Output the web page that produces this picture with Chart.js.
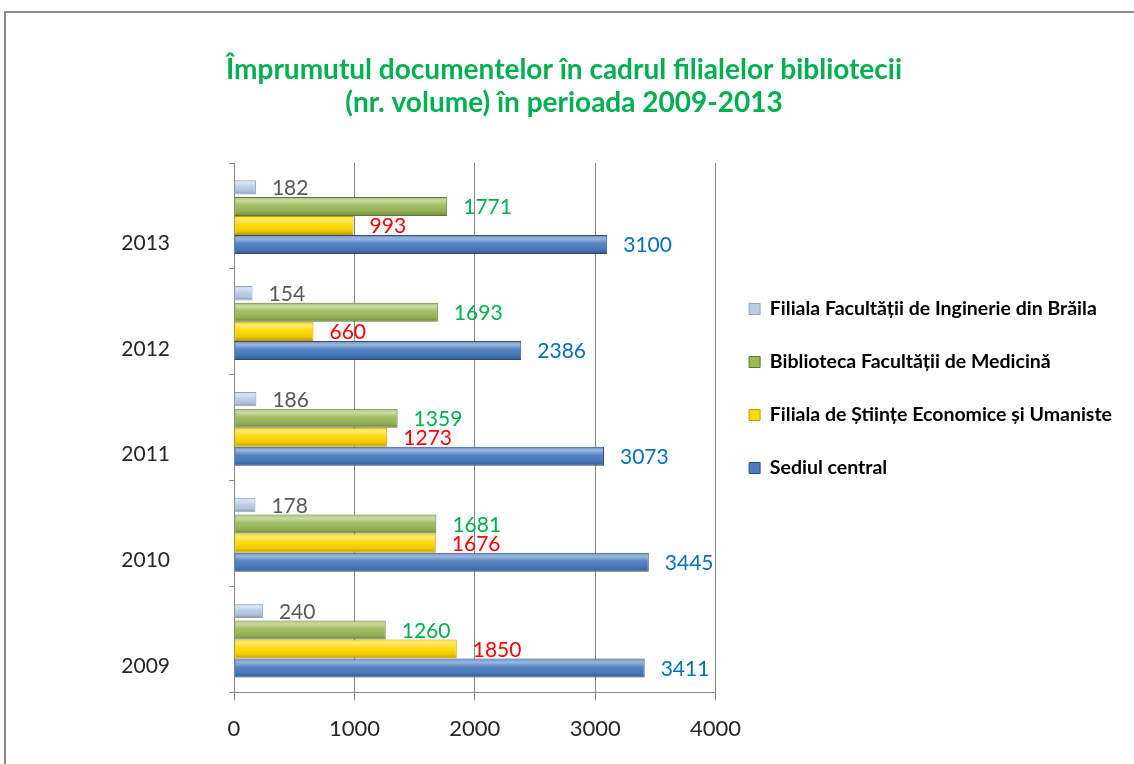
<!DOCTYPE html>
<html>
<head>
<meta charset="utf-8">
<script src="https://cdn.jsdelivr.net/npm/chart.js@4"></script>
<style>
  html, body { margin: 0; padding: 0; background: #fff; overflow: hidden; }
  #frame {
    position: absolute; left: 4px; top: 11px;
    width: 1140px; height: 760px;
    border: 2px solid #8c8c8c; background: #fff;
  }
  #wrap { position: absolute; left: 0; top: 0; width: 1128px; height: 751px; }
</style>
</head>
<body>
<div id="frame"><div id="wrap"><canvas id="chartImprumut"></canvas></div></div>
<script>
// categorii de sus in jos
const ani = ['2013', '2012', '2011', '2010', '2009'];

const serii = [
    'Filiala Facultății de Inginerie din Brăila',
    'Biblioteca Facultății de Medicină',
    'Filiala de Științe Economice și Umaniste',
    'Sediul central'
];

const inginerie = [182, 154, 186, 178, 240];
const medicina = [1771, 1693, 1359, 1681, 1260];
const economice = [993, 660, 1273, 1676, 1850];
const sediu = [3100, 2386, 3073, 3445, 3411];

const tickuriX = [0, 1000, 2000, 3000, 4000];

const culoriBare = ['#B9CDE5', '#9BBB59', '#FFD800', '#4A7DC0'];
const culoriMargini = ['#8EA4C1', '#5F7530', '#C99700', '#2C4D75'];
const culoriEtichete = ['#595959', '#00B050', '#FF0000', '#0070C0'];

const FONT = 'Lato, "Open Sans", sans-serif';
const grila = '#868686';

// efect de relief peste bare + etichetele cu valori
const eticheteBare = {
    id: 'eticheteBare',
    afterDatasetsDraw(chart) {
        const ctx = chart.ctx;
        chart.data.datasets.forEach((ds, di) => {
            const meta = chart.getDatasetMeta(di);
            if (meta.hidden) return;
            meta.data.forEach((bar, i) => {
                const p = bar.getProps(['x', 'y', 'base', 'height'], true);
                const top = p.y - p.height / 2;
                const g = ctx.createLinearGradient(0, top, 0, top + p.height);
                g.addColorStop(0, 'rgba(255,255,255,0.15)');
                g.addColorStop(0.2, 'rgba(255,255,255,0.45)');
                g.addColorStop(0.45, 'rgba(255,255,255,0.05)');
                g.addColorStop(0.8, 'rgba(0,0,0,0.08)');
                g.addColorStop(1, 'rgba(0,0,0,0.3)');
                ctx.save();
                ctx.fillStyle = g;
                ctx.fillRect(p.base + 1, top + 1, p.x - p.base - 2, p.height - 2);
                ctx.restore();

                ctx.save();
                ctx.font = '21px ' + FONT;
                ctx.fillStyle = culoriEtichete[di];
                ctx.textAlign = 'left';
                ctx.textBaseline = 'middle';
                ctx.fillText(String(ds.data[i]), p.x + 16, p.y + 1);
                ctx.restore();
            });
        });
    }
};

const valori = [inginerie, medicina, economice, sediu];

new Chart(document.getElementById('chartImprumut'), {
    type: 'bar',
    data: {
        labels: ani,
        datasets: serii.map((nume, i) => ({
            label: nume,
            data: valori[i],
            backgroundColor: culoriBare[i],
            borderColor: culoriMargini[i],
            borderWidth: 1,
            barPercentage: i === 0 ? 0.75 : 1,
            categoryPercentage: 0.72
        }))
    },
    options: {
        indexAxis: 'y',
        responsive: true,
        maintainAspectRatio: false,
        animation: false,
        layout: { padding: { left: 0, right: 12, top: 0, bottom: 0 } },
        scales: {
            x: {
                min: 0,
                max: 4000,
                afterBuildTicks: s => { s.ticks = tickuriX.map(v => ({ value: v })); },
                afterFit: s => { s.height = 68; },
                grid: { color: grila, tickLength: 8 },
                border: { color: grila },
                ticks: {
                    color: '#262626', padding: 15,
                    font: { family: FONT, size: 22 },
                    callback: v => String(v)
                }
            },
            y: {
                afterFit: s => { s.width = 228; },
                grid: { drawOnChartArea: false, tickLength: 5, color: grila },
                border: { color: grila },
                ticks: { color: '#262626', padding: 59, labelOffset: 27, font: { family: FONT, size: 21 } }
            }
        },
        plugins: {
            title: {
                display: true,
                text: ['Împrumutul documentelor în cadrul filialelor bibliotecii',
                       '(nr. volume) în perioada 2009-2013'],
                color: '#00B050',
                font: { family: FONT, size: 28, weight: 'bold', lineHeight: 33 / 28 },
                padding: { top: 40, bottom: 44 }
            },
            legend: {
                position: 'right',
                maxWidth: 500,
                labels: {
                    color: '#000',
                    boxWidth: 11,
                    boxHeight: 11,
                    padding: 33.5,
                    font: { family: FONT, size: 19.5, weight: 'bold' }
                }
            },
            tooltip: { enabled: false }
        }
    },
    plugins: [eticheteBare]
});
</script>
</body>
</html>
